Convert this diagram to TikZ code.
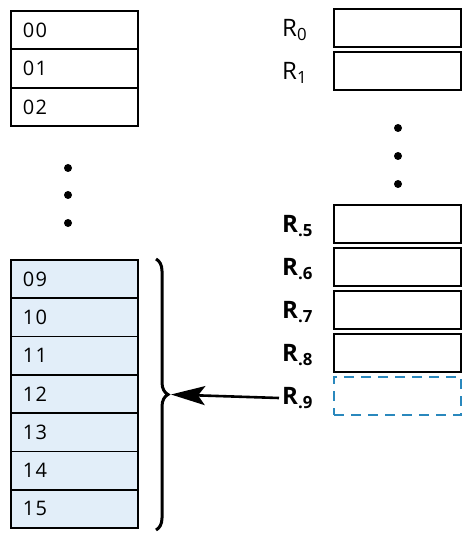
\documentclass[tikz,border=0pt]{standalone}
\usepackage{fontspec}
\setmainfont{Open Sans}
\usetikzlibrary{arrows.meta,decorations.pathreplacing}

\definecolor{cellblue}{HTML}{E2EEF9}
\definecolor{dashblue}{HTML}{2A88BD}

\tikzset{
	cell/.style={draw,line width=1.8pt,minimum height=38.3pt,text width=103pt,
		inner xsep=12pt,inner ysep=0pt,align=left,anchor=north west,
		font=\fontsize{20}{20}\selectfont\addfontfeatures{LetterSpace=6}},
	reg/.style={draw,line width=1.8pt,minimum width=127pt,minimum height=38pt,inner sep=0pt,anchor=north west},
	reglabel/.style={anchor=west,inner xsep=6pt,inner ysep=0pt,yshift=-2pt,font=\fontsize{24}{24}\selectfont},
	dot/.style={fill,circle,inner sep=0pt,minimum size=8pt}
}

\begin{document}
\begin{tikzpicture}[x=1pt,y=-1pt]
	\useasboundingbox (0,0) rectangle (468,534);

	% memory cells, upper part
	\foreach \n [count=\i from 0] in {00,01,02}
		\node[cell] (m\n) at (10,10+38.5*\i) {\n};
	\foreach \y in {168,195,223}
		\node[dot] at (68,\y) {};

	% memory cells, lower part
	\foreach \n [count=\i from 0] in {09,10,11,12,13,14,15}
		\node[cell,fill=cellblue] (m\n) at (10,259+38.3*\i) {\n};

	% registers
	\foreach \r/\y in {0/8,1/51,5/204,6/247,7/290,8/333}
		\node[reg] (r\r) at (333,\y) {};
	\node[reg,draw=dashblue,line width=2pt,dash pattern=on 10pt off 7pt] (r9) at (333,376) {};
	\foreach \y in {128,156,184}
		\node[dot] at (398,\y) {};

	\node[reglabel] (l0) at ([xshift=-57pt]r0.west) {R\textsubscript{0}};
	\node[reglabel] (l1) at ([xshift=-57pt]r1.west) {R\textsubscript{1}};
	\foreach \r in {5,6,7,8,9}
		\node[reglabel,font=\fontsize{24}{24}\selectfont\bfseries] (l\r) at ([xshift=-57pt]r\r.west) {R\textsubscript{.\r}};

	% brace and pointer
	\draw[line width=3pt,decorate,decoration={brace,amplitude=12pt}] (156,259) -- (156,530);
	\coordinate (tip) at (171,394.5);
	\draw[line width=2.6pt,-{Stealth[length=34pt,width=19pt,inset=7pt]}] ([xshift=3pt]l9.west) -- (tip);
\end{tikzpicture}
\end{document}
